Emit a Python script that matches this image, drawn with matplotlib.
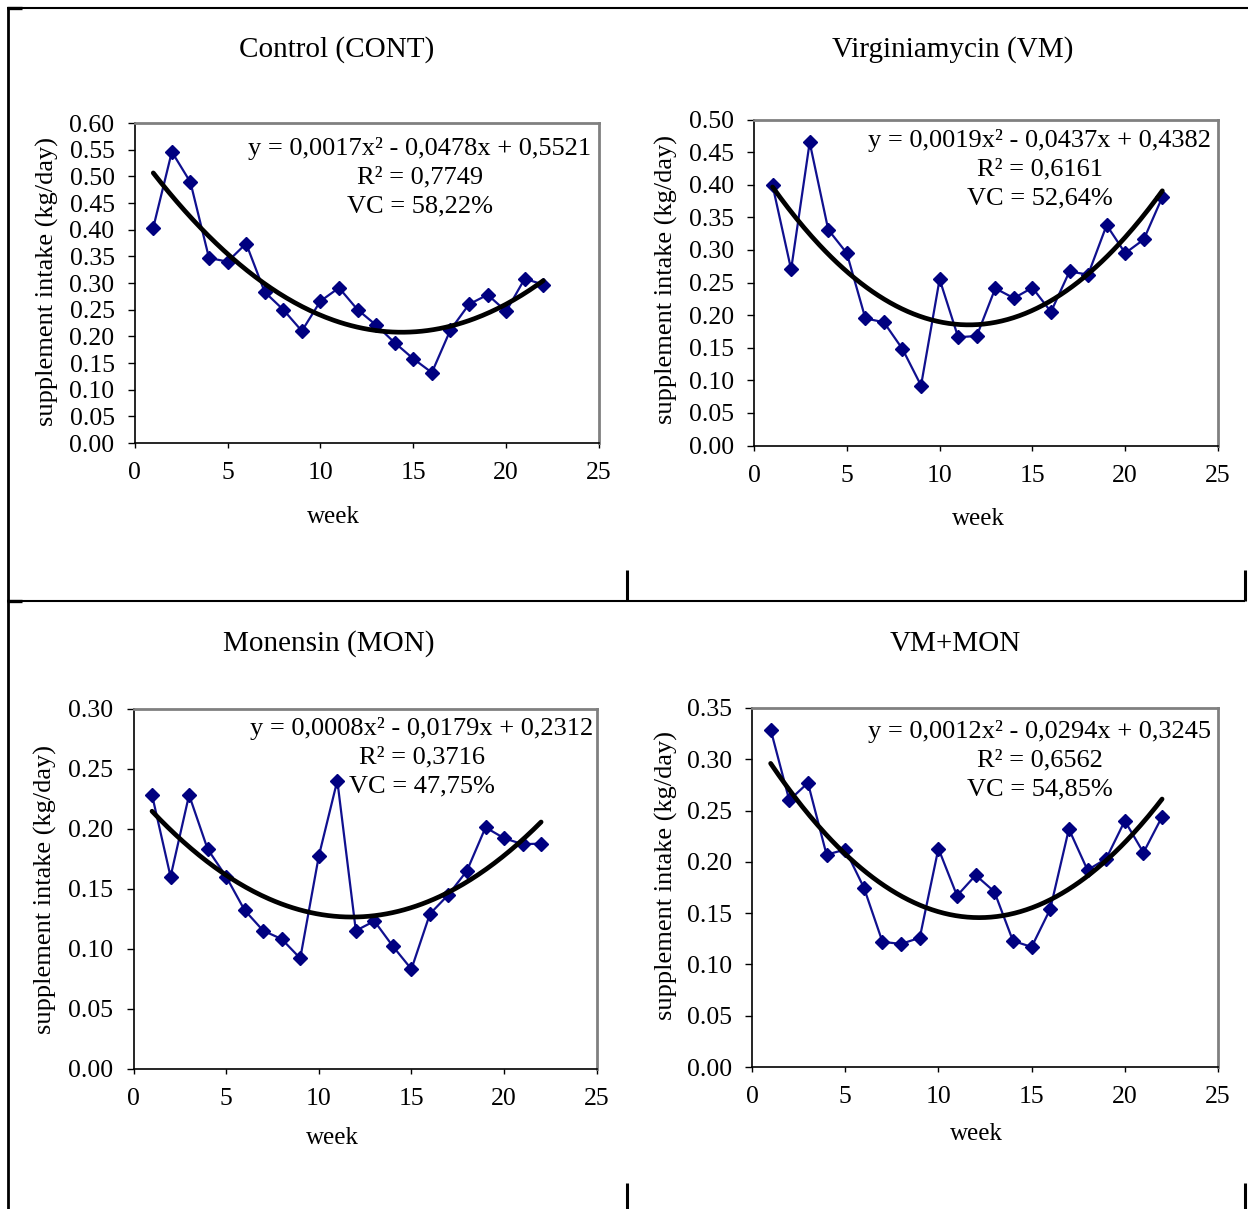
import numpy as np
import matplotlib
matplotlib.use("Agg")
import matplotlib.pyplot as plt
from matplotlib.lines import Line2D
from matplotlib.ticker import MultipleLocator, FormatStrFormatter

plt.rcParams['font.family'] = ['Liberation Serif', 'DejaVu Serif']

weeks = list(range(1, 23))

titles = ["Control (CONT)", "Virginiamycin (VM)", "Monensin (MON)", "VM+MON"]

cont = [0.404, 0.546, 0.489, 0.347, 0.340, 0.374, 0.283, 0.250, 0.210, 0.266, 0.291,
        0.250, 0.221, 0.188, 0.158, 0.132, 0.212, 0.260, 0.278, 0.247, 0.308, 0.297]
vm = [0.399, 0.270, 0.465, 0.331, 0.295, 0.195, 0.189, 0.148, 0.092, 0.255, 0.166,
      0.168, 0.241, 0.226, 0.242, 0.205, 0.267, 0.262, 0.338, 0.295, 0.316, 0.381]
mon = [0.228, 0.160, 0.228, 0.183, 0.160, 0.132, 0.115, 0.108, 0.092, 0.177, 0.240,
       0.115, 0.123, 0.102, 0.083, 0.129, 0.145, 0.165, 0.201, 0.192, 0.187, 0.1875]
vm_mon = [0.329, 0.260, 0.277, 0.207, 0.212, 0.175, 0.122, 0.120, 0.126, 0.213, 0.167,
          0.187, 0.171, 0.123, 0.117, 0.154, 0.232, 0.192, 0.203, 0.240, 0.209, 0.244]

eq_texts = [
    "y = 0,0017x² - 0,0478x + 0,5521\nR² = 0,7749\nVC = 58,22%",
    "y = 0,0019x² - 0,0437x + 0,4382\nR² = 0,6161\nVC = 52,64%",
    "y = 0,0008x² - 0,0179x + 0,2312\nR² = 0,3716\nVC = 47,75%",
    "y = 0,0012x² - 0,0294x + 0,3245\nR² = 0,6562\nVC = 54,85%",
]
ymax = [0.60, 0.50, 0.30, 0.35]

series = [cont, vm, mon, vm_mon]

W, H = 1248, 1209
fig = plt.figure(figsize=(W / 100, H / 100), dpi=100)


def fx(x):
    return x / W


def fy(y):
    return 1 - y / H


# axes boxes in pixel coords: left, right, top, bottom
boxes = [
    (134.7, 599.0, 123.0, 443.0),
    (754.0, 1218.0, 119.5, 445.5),
    (133.5, 596.7, 708.5, 1068.8),
    (752.0, 1218.0, 708.0, 1067.0),
]
title_pos = [(337, 50), (953, 50), (329, 644), (955, 644)]
week_pos = [(333, 517), (978, 519), (332, 1138), (976, 1134)]
ylab_pos = [(47, 281), (666, 279), (45, 890), (666, 876)]
eq_pos = [(420, 177), (1040, 169), (422, 757), (1040, 760)]

for i in range(4):
    l, r, t, b = boxes[i]
    ax = fig.add_axes([fx(l), fy(b), fx(r) - fx(l), fy(t) - fy(b)])
    ax.plot(weeks, series[i], color='#10108f', lw=1.6, marker='D', ms=7.2,
            markerfacecolor='#000080', markeredgecolor='#000080', clip_on=False, zorder=3)
    # polynomial (order 2) trend line fitted to the weekly values
    c = np.polyfit(weeks, series[i], 2)
    xs = np.linspace(1, 22, 200)
    ax.plot(xs, np.polyval(c, xs), color='black', lw=3.4, zorder=4,
            solid_capstyle='round')
    ax.set_xlim(0, 25)
    ax.set_ylim(0, ymax[i])
    ax.xaxis.set_major_locator(MultipleLocator(5))
    ax.yaxis.set_major_locator(MultipleLocator(0.05))
    ax.yaxis.set_major_formatter(FormatStrFormatter('%.2f'))
    ax.tick_params(direction='out', width=1.0, labelsize=18.5)
    ax.tick_params(axis='x', length=3.8, pad=10)
    ax.tick_params(axis='y', length=5, pad=9.5)
    for s in ['top', 'right']:
        ax.spines[s].set_color('#808080')
        ax.spines[s].set_linewidth(2.0)
    for s in ['left', 'bottom']:
        ax.spines[s].set_color('black')
        ax.spines[s].set_linewidth(1.2)

    fig.text(fx(title_pos[i][0]), fy(title_pos[i][1]), titles[i], fontsize=21,
             ha='center', va='center')
    fig.text(fx(week_pos[i][0]), fy(week_pos[i][1]), "week", fontsize=18,
             ha='center', va='center')
    fig.text(fx(ylab_pos[i][0]), fy(ylab_pos[i][1]), "supplement intake (kg/day)",
             fontsize=19, ha='center', va='center', rotation=90)
    fig.text(fx(eq_pos[i][0]), fy(eq_pos[i][1]), eq_texts[i], fontsize=19,
             ha='center', va='center', multialignment='center', linespacing=1.4)

# table-like border lines
def seg(x0, y0, x1, y1, lw):
    fig.add_artist(Line2D([fx(x0), fx(x1)], [fy(y0), fy(y1)], color='black',
                          lw=lw, transform=fig.transFigure, solid_capstyle='butt'))

seg(7, 7.5, 1248, 7.5, 1.5)
seg(7, 8, 22, 8, 2.4)
seg(8, 7, 8, 1209, 2.0)
seg(7, 600.5, 1245, 600.5, 1.5)
seg(7, 601, 22, 601, 2.4)
for xv in (627, 1245):
    seg(xv, 570, xv, 600.5, 2.2)
    seg(xv, 1183, xv, 1209, 2.2)

fig.savefig("out.png", dpi=100)
